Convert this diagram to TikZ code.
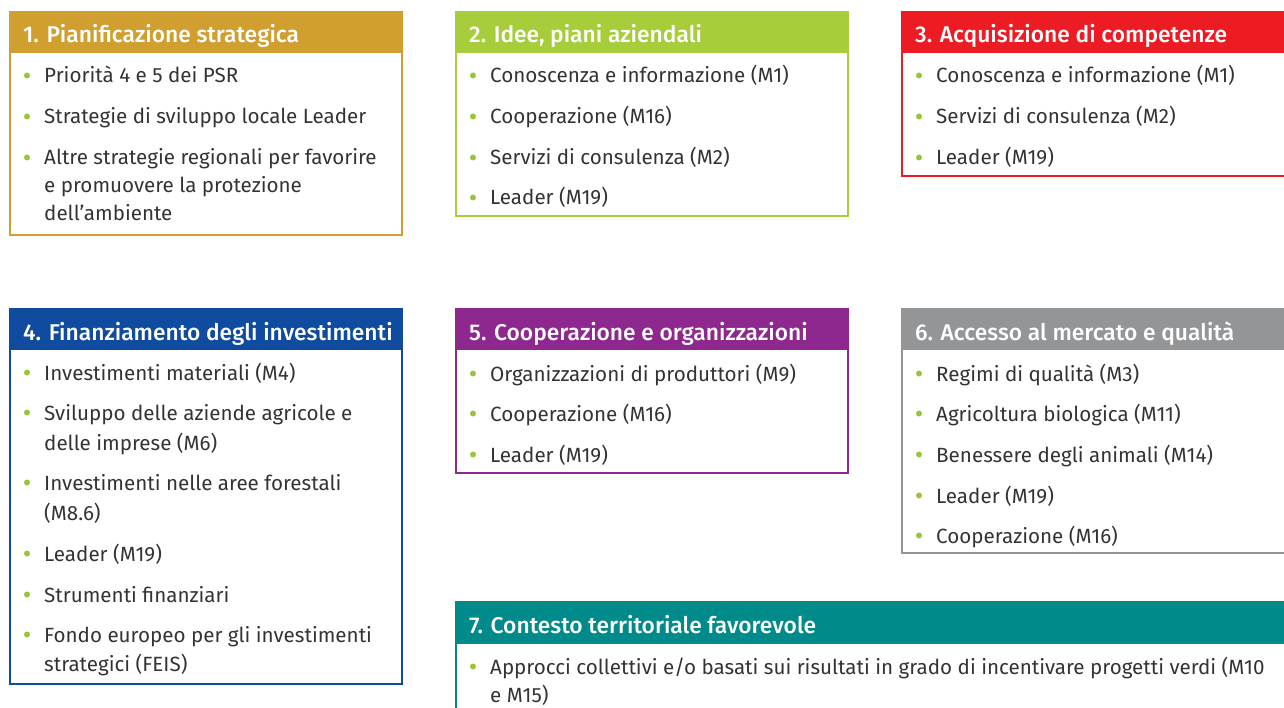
\documentclass[tikz,border=0pt]{standalone}
\usepackage{fontspec}
\setmainfont{Fira Sans}[BoldFont={Fira Sans Medium}]

\definecolor{cgold}{HTML}{D19F2F}
\definecolor{clime}{HTML}{A8CD3B}
\definecolor{cred}{HTML}{ED1C24}
\definecolor{cblue}{HTML}{0F4C9F}
\definecolor{cpurple}{HTML}{8E288F}
\definecolor{cgray}{HTML}{939597}
\definecolor{cteal}{HTML}{008B8A}
\definecolor{cbullet}{HTML}{9AC53B}
\definecolor{ctext}{HTML}{333333}

% panel: name, colour, left, top, right, header bottom, bottom, title
\newcommand\panel[8]{%
  \fill[#2] (#3,#4) rectangle (#5,#6);
  \draw[#2, panelline] (#3,#4) rectangle (#5,#7);
  \node[hdrtext] (#1) at (#3+13,#4+31) {#8};
}
% bullet item: name, box left, baseline, text
\newcommand\entry[4]{%
  \fill[cbullet] (#2+17,#3-7.5) circle (3);
  \node[itemtext] (#1) at (#2+34,#3) {#4};
}
% continuation line of a wrapped item
\newcommand\cont[4]{%
  \node[itemtext] (#1) at (#2+34,#3) {#4};
}

\begin{document}
\begin{tikzpicture}[x=1pt,y=-1pt,
  panelline/.style={line width=2.5pt},
  hdrtext/.style={text=white, inner sep=0pt, anchor=base west,
    font=\fontsize{22.8}{26}\selectfont\bfseries},
  itemtext/.style={text=ctext, inner sep=0pt, anchor=base west,
    font=\fontsize{20.6}{26}\selectfont}]
\useasboundingbox (0,0) rectangle (1284,708);
\clip (0,0) rectangle (1284,708);

% 1
\panel{p1}{cgold}{10}{12}{402}{53}{235}{1. Pianificazione strategica}
\entry{p1a}{10}{83}{Priorità 4 e 5 dei PSR}
\entry{p1b}{10}{124}{Strategie di sviluppo locale Leader}
\entry{p1c}{10}{165}{Altre strategie regionali per favorire}
\cont{p1c2}{10}{193}{e promuovere la protezione}
\cont{p1c3}{10}{221}{dell’ambiente}

% 2
\panel{p2}{clime}{456}{12}{848}{53}{216}{2. Idee, piani aziendali}
\entry{p2a}{456}{83}{Conoscenza e informazione (M1)}
\entry{p2b}{456}{124}{Cooperazione (M16)}
\entry{p2c}{456}{165}{Servizi di consulenza (M2)}
\entry{p2d}{456}{205}{Leader (M19)}

% 3
\panel{p3}{cred}{902}{12}{1320}{53}{176}{3. Acquisizione di competenze}
\entry{p3a}{902}{83}{Conoscenza e informazione (M1)}
\entry{p3b}{902}{124}{Servizi di consulenza (M2)}
\entry{p3c}{902}{165}{Leader (M19)}

% 4
\panel{p4}{cblue}{10}{309}{402}{350}{684}{4. Finanziamento degli investimenti}
\entry{p4a}{10}{380}{Investimenti materiali (M4)}
\entry{p4b}{10}{420}{Sviluppo delle aziende agricole e}
\cont{p4b2}{10}{450}{delle imprese (M6)}
\entry{p4c}{10}{490}{Investimenti nelle aree forestali}
\cont{p4c2}{10}{520}{(M8.6)}
\entry{p4d}{10}{561}{Leader (M19)}
\entry{p4e}{10}{602}{Strumenti finanziari}
\entry{p4f}{10}{642}{Fondo europeo per gli investimenti}
\cont{p4f2}{10}{671}{strategici (FEIS)}

% 5
\panel{p5}{cpurple}{456}{309}{848}{350}{473}{5. Cooperazione e organizzazioni}
\entry{p5a}{456}{381}{Organizzazioni di produttori (M9)}
\entry{p5b}{456}{421}{Cooperazione (M16)}
\entry{p5c}{456}{462}{Leader (M19)}

% 6
\panel{p6}{cgray}{902}{309}{1320}{350}{553}{6. Accesso al mercato e qualità}
\entry{p6a}{902}{381}{Regimi di qualità (M3)}
\entry{p6b}{902}{421}{Agricoltura biologica (M11)}
\entry{p6c}{902}{462}{Benessere degli animali (M14)}
\entry{p6d}{902}{503}{Leader (M19)}
\entry{p6e}{902}{543}{Cooperazione (M16)}

% 7: the panel runs off the right and bottom edges
\panel{p7}{cteal}{456}{602}{1320}{644}{740}{7. Contesto territoriale favorevole}
\entry{p7a}{456}{674}{Approcci collettivi e/o basati sui risultati in grado di incentivare progetti verdi (M10}
\cont{p7a2}{456}{702}{e M15)}
\end{tikzpicture}
\end{document}
